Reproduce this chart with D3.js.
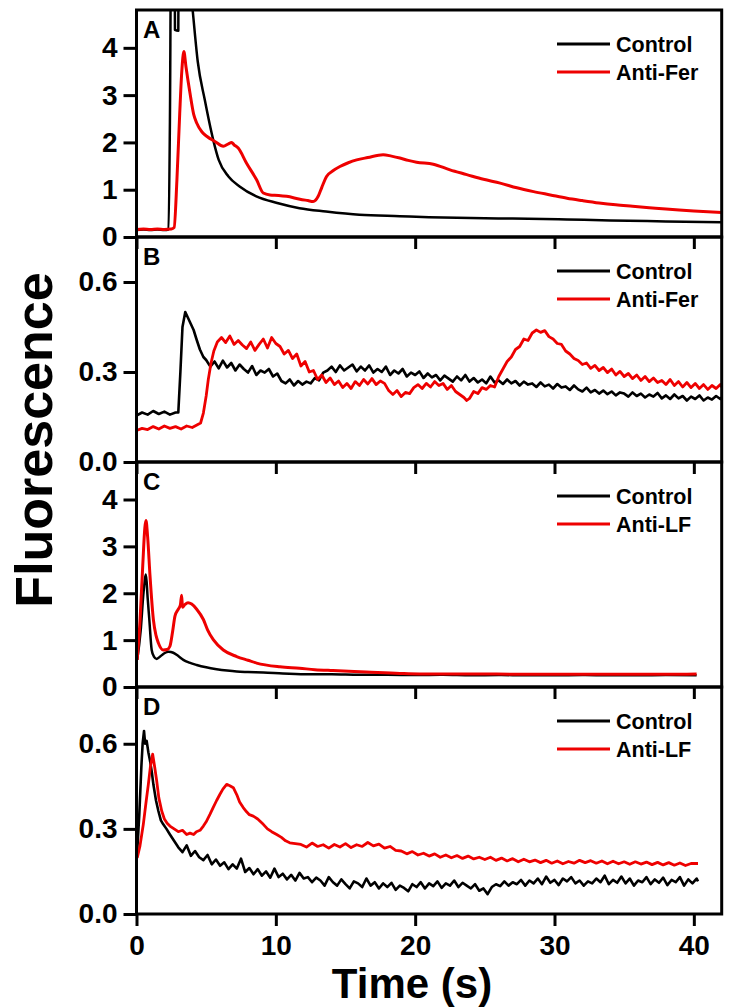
<!DOCTYPE html>
<html>
<head>
<meta charset="utf-8">
<script src="https://cdn.jsdelivr.net/npm/d3@7"></script>
<style>
  html, body { margin: 0; padding: 0; background: #fff; }
  svg { display: block; }
  text { font-family: "Liberation Sans", Arial, sans-serif; font-weight: bold; fill: #000; }
</style>
</head>
<body>
<svg id="chart" width="739" height="1007"></svg>
<script>
// ---------------- DATA ----------------
const xTicks = [0, 10, 20, 30, 40];
const yTicksBig = [0, 1, 2, 3, 4];
const yTicksSmall = [0.0, 0.3, 0.6];
const panelLetters = ["A", "B", "C", "D"];
const legendA = ["Control", "Anti-Fer"];
const legendB = ["Control", "Anti-Fer"];
const legendC = ["Control", "Anti-LF"];
const legendD = ["Control", "Anti-LF"];

// Panel A: [time s, fluorescence]
const controlA = [[0,0.15],[0.5,0.16],[1,0.15],[1.5,0.16],[2,0.15],[2.3,0.16],[2.4,2.5],[2.48,6.0],[2.74,6.0],[2.76,4.38],[3.0,4.36],[3.02,6.0],[3.5,6.5],[3.9,5.2],[4.05,4.74],[4.4,3.7],[4.9,2.9],[5.5,2.06],[5.9,1.63],[6.6,1.28],[7.4,1.07],[8.6,0.86],[10.1,0.72],[11.7,0.61],[13.6,0.54],[16,0.47],[18.9,0.44],[21,0.42],[24,0.4],[27,0.39],[30.9,0.37],[34,0.35],[38,0.33],[42,0.31]];
const antiFerA = [[0,0.16],[0.5,0.17],[1,0.16],[1.5,0.17],[2,0.16],[2.5,0.17],[2.7,0.2],[2.9,1.2],[3.1,2.6],[3.25,3.5],[3.4,3.92],[3.55,3.6],[3.84,3.04],[4.1,2.6],[4.32,2.41],[4.7,2.22],[5.04,2.13],[5.63,2.02],[6.23,1.92],[6.6,1.97],[6.83,2.0],[7.0,1.95],[7.3,1.88],[7.9,1.56],[8.62,1.21],[9.1,0.93],[9.58,0.89],[10.2,0.88],[10.77,0.86],[11.73,0.8],[12.3,0.77],[12.68,0.75],[13.04,0.86],[13.3,1.05],[13.64,1.28],[14.1,1.4],[14.6,1.49],[15.2,1.57],[15.8,1.63],[16.6,1.68],[17.7,1.74],[18.3,1.71],[18.9,1.67],[19.5,1.62],[20.1,1.58],[21.3,1.54],[22.5,1.42],[23.7,1.32],[24.9,1.22],[26.1,1.14],[27.3,1.04],[28.5,0.96],[29.7,0.89],[30.9,0.82],[32,0.77],[33.2,0.72],[34.4,0.68],[35.6,0.65],[36.8,0.62],[38,0.59],[40,0.55],[42,0.52]];

// Panel B
const controlB = [[0,0.155],[0.4,0.165],[0.8,0.158],[1.2,0.17],[1.6,0.16],[2.0,0.168],[2.4,0.158],[2.8,0.165],[3.0,0.165],[3.15,0.3],[3.3,0.45],[3.5,0.5],[3.7,0.48],[3.9,0.46],[4.1,0.44],[4.3,0.41],[4.55,0.375],[4.8,0.35],
  [5.0,0.34],[5.3,0.318],[5.6,0.335],[5.9,0.312],[6.2,0.338],[6.5,0.315],[6.8,0.33],[7.1,0.305],[7.4,0.325],[7.7,0.31],[8.0,0.298],[8.3,0.32],[8.6,0.29],[8.9,0.305],[9.2,0.298],[9.5,0.31],[9.8,0.285],[10.1,0.295],[10.4,0.27],[10.7,0.262],[11.0,0.275],[11.3,0.255],[11.6,0.27],[11.9,0.258],[12.2,0.268],[12.5,0.262],[12.8,0.28],[13.1,0.272],[13.4,0.298],[13.7,0.305],[14.0,0.318],[14.3,0.3],[14.6,0.322],[14.9,0.305],[15.2,0.315],[15.5,0.325],[15.8,0.302],[16.1,0.318],[16.4,0.305],[16.7,0.322],[17.0,0.298],[17.3,0.31],[17.6,0.3],[17.9,0.318],[18.2,0.29],[18.5,0.305],[18.8,0.295],[19.1,0.31],[19.4,0.285],[19.7,0.298],[20.0,0.29],[20.3,0.302],[20.6,0.28],[20.9,0.295],[21.2,0.282],[21.5,0.29],[21.8,0.272],[22.1,0.288],[22.4,0.278],[22.7,0.268],[23.0,0.285],[23.3,0.272],[23.6,0.29],[23.9,0.268],[24.2,0.28],[24.5,0.265],[24.8,0.275],[25.1,0.262],[25.4,0.285],[25.7,0.265],[26.0,0.272],[26.3,0.26],[26.6,0.275],[26.9,0.262],[27.2,0.27],[27.5,0.255],[27.8,0.268],[28.1,0.258],[28.4,0.262],[28.7,0.25],[29.0,0.265],[29.3,0.252],[29.6,0.258],[29.9,0.245],[30.2,0.26],[30.5,0.248],[30.8,0.252],[31.1,0.24],[31.4,0.255],[31.7,0.242],[32.0,0.235],[32.3,0.248],[32.6,0.232],[32.9,0.24],[33.2,0.228],[33.5,0.238],[33.8,0.226],[34.1,0.235],[34.4,0.222],[34.7,0.232],[35.0,0.228],[35.3,0.218],[35.6,0.232],[35.9,0.22],[36.2,0.228],[36.5,0.215],[36.8,0.225],[37.1,0.218],[37.4,0.23],[37.7,0.212],[38.0,0.222],[38.3,0.21],[38.6,0.225],[38.9,0.212],[39.2,0.22],[39.5,0.205],[39.8,0.218],[40.1,0.21],[40.4,0.222],[40.7,0.205],[41.0,0.215],[41.3,0.208],[41.6,0.22],[41.9,0.21],[42,0.215]];
const antiFerB = [[0,0.105],[0.4,0.112],[0.8,0.108],[1.2,0.118],[1.6,0.11],[2.0,0.12],[2.4,0.112],[2.8,0.118],[3.2,0.11],[3.6,0.12],[4.0,0.115],[4.4,0.125],[4.6,0.13],[4.8,0.163],[5.0,0.22],[5.15,0.274],[5.35,0.33],[5.55,0.37],
  [5.8,0.4],[6.1,0.415],[6.4,0.398],[6.7,0.42],[7.0,0.392],[7.3,0.405],[7.6,0.39],[7.9,0.378],[8.2,0.4],[8.5,0.372],[8.8,0.392],[9.1,0.41],[9.4,0.38],[9.7,0.415],[10.0,0.395],[10.3,0.385],[10.6,0.36],[10.9,0.372],[11.2,0.345],[11.5,0.36],[11.8,0.32],[12.1,0.335],[12.4,0.3],[12.7,0.305],[13.0,0.275],[13.3,0.29],[13.6,0.265],[13.9,0.28],[14.2,0.258],[14.5,0.27],[14.8,0.248],[15.1,0.262],[15.4,0.245],[15.7,0.268],[16.0,0.255],[16.3,0.275],[16.6,0.26],[16.9,0.278],[17.2,0.258],[17.5,0.27],[17.8,0.262],[18.1,0.238],[18.4,0.225],[18.7,0.238],[19.0,0.218],[19.3,0.232],[19.6,0.228],[19.9,0.248],[20.2,0.258],[20.5,0.245],[20.8,0.262],[21.1,0.25],[21.4,0.268],[21.7,0.255],[22.0,0.262],[22.3,0.242],[22.6,0.255],[22.9,0.235],[23.2,0.225],[23.5,0.215],[23.7,0.205],[23.9,0.212],[24.2,0.235],[24.5,0.228],[24.8,0.248],[25.1,0.242],[25.4,0.255],[25.7,0.25],[26.0,0.285],[26.3,0.31],[26.6,0.335],[26.9,0.35],[27.2,0.375],[27.5,0.385],[27.8,0.41],[28.1,0.405],[28.4,0.43],[28.7,0.44],[29.0,0.432],[29.3,0.438],[29.6,0.418],[29.9,0.41],[30.2,0.395],[30.5,0.392],[30.8,0.37],[31.1,0.36],[31.4,0.345],[31.7,0.338],[32.0,0.325],[32.3,0.33],[32.6,0.312],[32.9,0.322],[33.2,0.305],[33.5,0.315],[33.8,0.298],[34.1,0.31],[34.4,0.29],[34.7,0.302],[35.0,0.285],[35.3,0.295],[35.6,0.278],[35.9,0.29],[36.2,0.272],[36.5,0.285],[36.8,0.268],[37.1,0.28],[37.4,0.265],[37.7,0.272],[38.0,0.258],[38.3,0.275],[38.6,0.255],[38.9,0.268],[39.2,0.25],[39.5,0.265],[39.8,0.248],[40.1,0.262],[40.4,0.245],[40.7,0.258],[41.0,0.242],[41.3,0.255],[41.6,0.245],[41.9,0.258],[42,0.25]];

// Panel C
const controlC = [[0.05,0.58],[0.3,1.2],[0.5,2.0],[0.68,2.4],[0.8,1.9],[0.92,1.44],[1.09,0.79],[1.25,0.65],[1.45,0.6],[1.7,0.65],[2.0,0.72],[2.3,0.75],[2.64,0.73],[3.0,0.66],[3.36,0.58],[3.8,0.52],[4.32,0.47],[5.0,0.42],[5.75,0.38],[6.5,0.35],[7.19,0.33],[8.0,0.32],[9.1,0.31],[10.5,0.29],[12.4,0.27],[14,0.27],[16,0.26],[18,0.26],[20,0.255],[22,0.26],[24,0.25],[26,0.255],[28,0.25],[30,0.25],[32,0.255],[34,0.25],[36,0.25],[38,0.255],[40.2,0.25]];
const antiLfC = [[0.05,0.58],[0.25,1.4],[0.45,2.6],[0.6,3.4],[0.68,3.55],[0.8,3.2],[0.97,2.37],[1.21,1.44],[1.4,1.1],[1.57,0.94],[1.92,0.79],[2.2,0.8],[2.4,0.87],[2.6,1.2],[2.76,1.51],[3.0,1.66],[3.15,1.75],[3.24,1.96],[3.3,1.7],[3.48,1.76],[3.7,1.8],[3.96,1.77],[4.32,1.66],[4.8,1.44],[5.1,1.22],[5.51,1.01],[6.23,0.79],[7.19,0.65],[8.0,0.57],[8.62,0.51],[10.3,0.43],[11.7,0.4],[12.8,0.37],[14.1,0.35],[16.5,0.32],[18.9,0.29],[20.3,0.28],[24,0.28],[28,0.27],[32,0.27],[36,0.27],[38,0.27],[40.2,0.28]];

// Panel D
const controlD = [[0.05,0.22],[0.2,0.35],[0.35,0.52],[0.44,0.6],[0.54,0.645],[0.62,0.6],[0.73,0.61],[0.85,0.57],[0.97,0.54],[1.1,0.5],[1.21,0.457],[1.4,0.4],[1.57,0.363],[1.75,0.33],[1.92,0.316],[2.15,0.3],[2.4,0.28],[2.6,0.265],[2.8,0.25],
  [3.0,0.235],[3.3,0.218],[3.6,0.242],[3.9,0.205],[4.2,0.222],[4.5,0.2],[4.8,0.19],[5.1,0.208],[5.4,0.175],[5.7,0.192],[6.0,0.17],[6.3,0.182],[6.6,0.158],[6.9,0.175],[7.2,0.16],[7.5,0.195],[7.8,0.148],[8.1,0.162],[8.4,0.14],[8.7,0.158],[9.0,0.135],[9.3,0.15],[9.6,0.128],[9.9,0.16],[10.2,0.13],[10.5,0.142],[10.8,0.122],[11.1,0.138],[11.4,0.118],[11.7,0.145],[12.0,0.125],[12.3,0.13],[12.6,0.112],[12.9,0.128],[13.2,0.118],[13.5,0.1],[13.8,0.13],[14.1,0.112],[14.4,0.1],[14.7,0.122],[15.0,0.105],[15.3,0.09],[15.6,0.115],[15.9,0.108],[16.2,0.095],[16.5,0.125],[16.8,0.1],[17.1,0.112],[17.4,0.09],[17.7,0.108],[18.0,0.095],[18.3,0.11],[18.6,0.085],[18.9,0.1],[19.2,0.092],[19.5,0.08],[19.8,0.105],[20.1,0.095],[20.4,0.112],[20.7,0.09],[21.0,0.108],[21.3,0.098],[21.6,0.115],[21.9,0.092],[22.2,0.108],[22.5,0.1],[22.8,0.118],[23.1,0.095],[23.4,0.11],[23.7,0.1],[24.0,0.09],[24.3,0.105],[24.6,0.082],[24.9,0.09],[25.2,0.07],[25.5,0.095],[25.8,0.105],[26.1,0.098],[26.4,0.115],[26.7,0.1],[27.0,0.112],[27.3,0.105],[27.6,0.12],[27.9,0.1],[28.2,0.118],[28.5,0.108],[28.8,0.125],[29.1,0.105],[29.4,0.132],[29.7,0.11],[30.0,0.12],[30.3,0.102],[30.6,0.125],[30.9,0.115],[31.2,0.13],[31.5,0.108],[31.8,0.118],[32.1,0.1],[32.4,0.115],[32.7,0.108],[33.0,0.125],[33.3,0.112],[33.6,0.135],[33.9,0.105],[34.2,0.12],[34.5,0.11],[34.8,0.132],[35.1,0.108],[35.4,0.125],[35.7,0.1],[36.0,0.118],[36.3,0.112],[36.6,0.13],[36.9,0.105],[37.2,0.122],[37.5,0.11],[37.8,0.128],[38.1,0.102],[38.4,0.12],[38.7,0.112],[39.0,0.13],[39.3,0.1],[39.6,0.122],[39.9,0.108],[40.2,0.125],[40.3,0.115]];
const antiLfD = [[0.05,0.198],[0.25,0.24],[0.49,0.316],[0.7,0.4],[0.85,0.457],[1.0,0.52],[1.16,0.563],[1.3,0.52],[1.45,0.469],[1.6,0.41],[1.81,0.363],[2.0,0.335],[2.2,0.32],[2.4,0.31],[2.7,0.3],[3.0,0.29],[3.3,0.295],[3.6,0.28],[3.84,0.285],[4.1,0.28],[4.3,0.29],[4.56,0.295],[4.8,0.31],[5.0,0.325],[5.27,0.351],[5.5,0.375],[5.75,0.4],[5.99,0.422],[6.2,0.44],[6.47,0.457],[6.7,0.452],[6.95,0.445],[7.2,0.42],[7.4,0.395],[7.66,0.375],[7.9,0.36],[8.1,0.35],[8.38,0.345],[8.7,0.335],[9.1,0.316],[9.4,0.3],[9.7,0.29],[10.06,0.28],[10.4,0.27],[10.7,0.258],[11.0,0.251],[11.4,0.248],[11.8,0.245],[12.2,0.236],[12.6,0.25],[13.0,0.238],[13.4,0.244],[13.8,0.232],[14.2,0.245],[14.6,0.236],[15.0,0.248],[15.4,0.234],[15.8,0.244],[16.2,0.238],[16.6,0.252],[17.0,0.24],[17.4,0.246],[17.8,0.232],[18.2,0.238],[18.6,0.224],[19.0,0.222],[19.4,0.212],[19.8,0.22],[20.2,0.208],[20.6,0.214],[21.0,0.204],[21.4,0.212],[21.8,0.2],[22.2,0.208],[22.6,0.198],[23.0,0.206],[23.4,0.196],[23.8,0.204],[24.2,0.194],[24.6,0.2],[25.0,0.192],[25.4,0.2],[25.8,0.189],[26.2,0.197],[26.6,0.187],[27.0,0.195],[27.4,0.184],[27.8,0.193],[28.2,0.184],[28.6,0.19],[29.0,0.181],[29.4,0.189],[29.8,0.179],[30.2,0.187],[30.6,0.177],[31.0,0.185],[31.4,0.179],[31.8,0.189],[32.2,0.181],[32.6,0.188],[33.0,0.179],[33.4,0.187],[33.8,0.177],[34.2,0.186],[34.6,0.177],[35.0,0.184],[35.4,0.175],[35.8,0.184],[36.2,0.176],[36.6,0.183],[37.0,0.174],[37.4,0.182],[37.8,0.173],[38.2,0.181],[38.6,0.172],[39.0,0.18],[39.4,0.171],[39.8,0.178],[40.3,0.178]];

// ---------------- LAYOUT ----------------
const svg = d3.select("#chart");
svg.append("rect").attr("width", 739).attr("height", 1007).attr("fill", "#fff");

const left = 136.5, right = 721.7;
const x = d3.scaleLinear().domain([0, 42]).range([left, right]);
const FONT = '"Liberation Sans", Arial, sans-serif';

const panels = [
  { letter: panelLetters[0], top: 10,  bottom: 237, ymax: 4.8,  ticks: yTicksBig,   fmt: d3.format("d"),   series: [controlA, antiFerA], legend: legendA, smooth: true },
  { letter: panelLetters[1], top: 237, bottom: 462, ymax: 0.75, ticks: yTicksSmall, fmt: d3.format(".1f"), series: [controlB, antiFerB], legend: legendB, smooth: false },
  { letter: panelLetters[2], top: 462, bottom: 687, ymax: 4.8,  ticks: yTicksBig,   fmt: d3.format("d"),   series: [controlC, antiLfC], legend: legendC, smooth: true },
  { letter: panelLetters[3], top: 687, bottom: 914, ymax: 0.8,  ticks: yTicksSmall, fmt: d3.format(".1f"), series: [controlD, antiLfD], legend: legendD, smooth: false }
];
const colors = ["#000000", "#ee0000"];

panels.forEach((p, i) => {
  const y = d3.scaleLinear().domain([0, p.ymax]).range([p.bottom, p.top]);
  const g = svg.append("g");

  const clipId = "clip" + i;
  svg.append("clipPath").attr("id", clipId)
    .append("rect").attr("x", left).attr("y", p.top).attr("width", right - left).attr("height", p.bottom - p.top);

  const line = d3.line().x(d => x(d[0])).y(d => y(d[1]))
    .curve(p.smooth ? d3.curveMonotoneX : d3.curveLinear);
  const plot = g.append("g").attr("clip-path", `url(#${clipId})`);
  const widths = p.smooth ? [2.5, 3.0] : [2.6, 2.8];
  p.series.forEach((s, k) => {
    plot.append("path").datum(s)
      .attr("d", line)
      .attr("fill", "none")
      .attr("stroke", colors[k])
      .attr("stroke-width", widths[k])
      .attr("stroke-linejoin", "round");
  });

  // y axis
  const yAxis = d3.axisLeft(y).tickValues(p.ticks).tickFormat(p.fmt).tickSize(13).tickPadding(6);
  const ya = g.append("g").attr("transform", `translate(${left},0)`).call(yAxis);
  ya.select(".domain").remove();
  ya.selectAll(".tick line").attr("stroke", "#000").attr("stroke-width", 3);
  ya.selectAll(".tick text").style("font-size", "28px").style("font-weight", "bold")
    .style("font-family", FONT).attr("fill", "#000");

  // x axis (ticks outward at bottom)
  const xAxis = d3.axisBottom(x).tickValues(xTicks).tickSize(12).tickPadding(9)
    .tickFormat(i === panels.length - 1 ? d3.format("d") : () => "");
  const xa = g.append("g").attr("transform", `translate(0,${p.bottom})`).call(xAxis);
  xa.select(".domain").remove();
  xa.selectAll(".tick line").attr("stroke", "#000").attr("stroke-width", 3);
  xa.selectAll(".tick text").style("font-size", "28px").style("font-weight", "bold")
    .style("font-family", FONT).attr("fill", "#000");

  // frame
  g.append("rect").attr("x", left).attr("y", p.top).attr("width", right - left).attr("height", p.bottom - p.top)
    .attr("fill", "none").attr("stroke", "#000").attr("stroke-width", 3);

  // panel letter
  g.append("text").attr("x", 143).attr("y", p.top + 28).style("font-size", "24px").text(p.letter);

  // legend
  const ly0 = p.top + 34;
  p.legend.forEach((name, k) => {
    const ly = ly0 + k * 28;
    g.append("line").attr("x1", 557).attr("x2", 610).attr("y1", ly).attr("y2", ly)
      .attr("stroke", colors[k]).attr("stroke-width", 3);
    g.append("text").attr("x", 616).attr("y", ly + 8).style("font-size", "21.5px").text(name);
  });
});

// axis titles
svg.append("text").attr("x", 412).attr("y", 998).attr("text-anchor", "middle")
  .style("font-size", "42px").text("Time (s)");
svg.append("text").attr("transform", "translate(52,440) rotate(-90)").attr("text-anchor", "middle")
  .style("font-size", "52px").text("Fluorescence");
</script>
</body>
</html>
